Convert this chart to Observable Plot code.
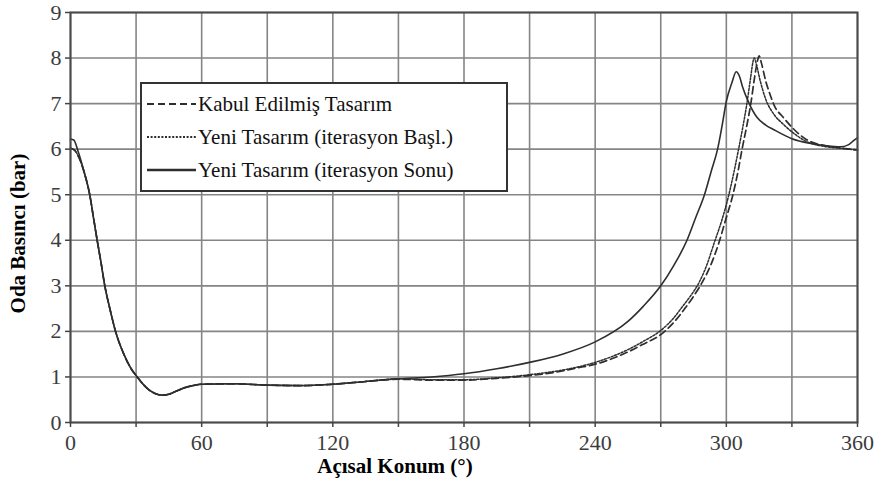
<!DOCTYPE html>
<html>
<head>
<meta charset="utf-8">
<script src="https://cdn.jsdelivr.net/npm/d3@7"></script>
<script src="https://cdn.jsdelivr.net/npm/@observablehq/plot@0.6"></script>
<style>
  body { margin: 0; background: #fff; }
  #wrap { position: relative; width: 875px; height: 495px; font-family: "Liberation Serif", Tinos, "Times New Roman", Times, "DejaVu Serif", serif; }
  #wrap svg text { font-family: "Liberation Serif", Tinos, "Times New Roman", Times, "DejaVu Serif", serif; }
  #legend { position: absolute; left: 140px; top: 82px; width: 364px; height: 106px; border: 2px solid #333; background: #fff; }
  .row { position: absolute; left: 4px; height: 24px; display: flex; align-items: center; font-size: 21px; color: #111; white-space: nowrap; }
  .row svg { width: 51px; height: 10px; margin-right: 1px; }
</style>
</head>
<body>
<div id="wrap"></div>
<script>
// Series: Kabul Edilmiş Tasarım (dashed)
const kabulX = [0,2,4,6.4,8.8,10.5,12.2,14,15.7,18,20.6,24.4,27.5,30.5,35.8,39,42,45,48,52,56,60,75,90,105,120,135,150,165,180,195,210,225,232,240,255,262,270,276,281,285,289,293,296.5,299.5,303,305.3,307.2,309.3,311.2,313,314.3,315,316,318,320,322,326,330,337,345,352,360];
const kabulY = [6.02,5.97,5.8,5.47,5.0,4.5,4.0,3.5,3.0,2.5,2.0,1.5,1.2,1.0,0.72,0.63,0.6,0.62,0.68,0.76,0.81,0.84,0.85,0.82,0.81,0.84,0.9,0.95,0.93,0.93,0.97,1.03,1.13,1.2,1.28,1.55,1.72,1.93,2.2,2.5,2.77,3.08,3.47,3.93,4.42,5.0,5.5,6.0,6.5,7.0,7.6,7.95,8.05,7.9,7.5,7.2,6.95,6.7,6.48,6.2,6.08,6.03,5.98];
// Series: Yeni Tasarım (iterasyon Başl.) (dotted)
const basX = [0,2,4,6.4,8.8,10.5,12.2,14,15.7,18,20.6,24.4,27.5,30.5,35.8,39,42,45,48,52,56,60,75,90,105,120,135,150,165,180,195,210,225,240,255,262,270,276,280,283.5,287.5,291,294.5,298,301,303.5,305.6,307.6,309.4,311.2,312.2,312.8,313.8,315.5,318,322,326,330,337,345,352,360];
const basY = [6.02,5.97,5.8,5.47,5.0,4.5,4.0,3.5,3.0,2.5,2.0,1.5,1.2,1.0,0.72,0.63,0.6,0.62,0.68,0.76,0.81,0.84,0.85,0.82,0.81,0.84,0.9,0.96,0.94,0.94,0.98,1.05,1.15,1.32,1.6,1.78,2.02,2.3,2.55,2.77,3.07,3.45,3.95,4.45,4.97,5.5,6.0,6.5,7.0,7.6,7.92,8.0,7.85,7.5,7.1,6.75,6.55,6.38,6.16,6.06,6.02,5.98];
// Series: Yeni Tasarım (iterasyon Sonu) (solid)
const sonuX = [0,1.5,3.5,6.4,8.8,10.5,12.2,14,15.7,18,20.6,24.4,27.5,30.5,35.8,39,42,45,48,52,56,60,75,90,105,120,135,150,165,180,195,210,225,240,255,262,270,276,282,286,290,293,296,298,300,302.5,304.5,306,307.4,310,314,318,322,330,338,345,352,356,358.5,360];
const sonuY = [6.22,6.2,5.95,5.47,5.0,4.5,4.0,3.5,3.0,2.5,2.0,1.5,1.2,1.0,0.72,0.63,0.6,0.62,0.68,0.76,0.81,0.84,0.85,0.82,0.81,0.84,0.9,0.96,1.0,1.07,1.18,1.32,1.5,1.77,2.22,2.55,3.0,3.45,4.0,4.5,5.0,5.5,6.0,6.5,7.05,7.45,7.7,7.6,7.37,7.05,6.7,6.53,6.42,6.23,6.13,6.08,6.05,6.1,6.2,6.25];

const seriesNames = ["Kabul Edilmiş Tasarım", "Yeni Tasarım (iterasyon Başl.)", "Yeni Tasarım (iterasyon Sonu)"];
const xTicks = [0,30,60,90,120,150,180,210,240,270,300,330,360];
const xTickLabels = ["0","","60","","120","","180","","240","","300","","360"];
const yTicks = [0,1,2,3,4,5,6,7,8,9];
const xLabel = "Açısal Konum (°)";
const yLabel = "Oda Basıncı (bar)";

const toRows = (xs, ys) => xs.map((x, i) => ({x, y: ys[i]}));
const kabul = toRows(kabulX, kabulY);
const bas = toRows(basX, basY);
const sonu = toRows(sonuX, sonuY);

const ink = "#2e2e2e";
const dashes = ["7,4", "2,1.6", null];
const serif = "'Liberation Serif', Tinos, 'Times New Roman', Times, 'DejaVu Serif', serif";

const chart = Plot.plot({
  width: 875,
  height: 495,
  marginLeft: 70,
  marginRight: 18,
  marginTop: 12,
  marginBottom: 73,
  style: { fontFamily: serif, background: "#fff" },
  x: { domain: [0, 360] },
  y: { domain: [0, 9] },
  marks: [
    Plot.gridX(xTicks, { stroke: "#858585", strokeOpacity: 1, strokeWidth: 1.6 }),
    Plot.gridY(yTicks, { stroke: "#858585", strokeOpacity: 1, strokeWidth: 1.6 }),
    Plot.line(kabul, { x: "x", y: "y", stroke: ink, strokeWidth: 1.7, strokeDasharray: dashes[0], curve: "monotone-x" }),
    Plot.line(bas, { x: "x", y: "y", stroke: ink, strokeWidth: 1.5, strokeDasharray: dashes[1], curve: "monotone-x" }),
    Plot.line(sonu, { x: "x", y: "y", stroke: ink, strokeWidth: 1.6, curve: "monotone-x" }),
    Plot.frame({ stroke: "#4a4a4a", strokeWidth: 2 }),
    Plot.axisX(xTicks, { tickSize: 5, tickPadding: 7, fontSize: 22, stroke: "#444", strokeWidth: 1.5, fill: "#3c3c3c", tickFormat: (d, i) => xTickLabels[i], label: null }),
    Plot.axisY(yTicks, { tickSize: 5, tickPadding: 4, fontSize: 22, stroke: "#444", strokeWidth: 1.5, fill: "#3c3c3c", label: null }),
    Plot.text([xLabel], { frameAnchor: "bottom", textAnchor: "middle", lineAnchor: "middle", dx: -69, dy: 44, fontSize: 21, fontWeight: "bold", fill: "#000" }),
    Plot.text([yLabel], { frameAnchor: "left", textAnchor: "middle", lineAnchor: "middle", rotate: -90, dx: -52, dy: 16, fontSize: 21, fontWeight: "bold", fill: "#000" })
  ]
});

const wrap = document.getElementById("wrap");
wrap.appendChild(chart);

// Legend
const legend = document.createElement("div");
legend.id = "legend";
const rowTops = [8, 41, 74];
seriesNames.forEach((name, i) => {
  const row = document.createElement("div");
  row.className = "row";
  row.style.top = rowTops[i] + "px";
  const dash = dashes[i] ? ` stroke-dasharray="${dashes[i]}"` : "";
  const sw = i === 2 ? 2.4 : 2;
  row.innerHTML = `<svg viewBox="0 0 51 10"><line x1="1" y1="5" x2="50" y2="5" stroke="${ink}" stroke-width="${sw}"${dash}/></svg><span>${name}</span>`;
  legend.appendChild(row);
});
wrap.appendChild(legend);
</script>
</body>
</html>
